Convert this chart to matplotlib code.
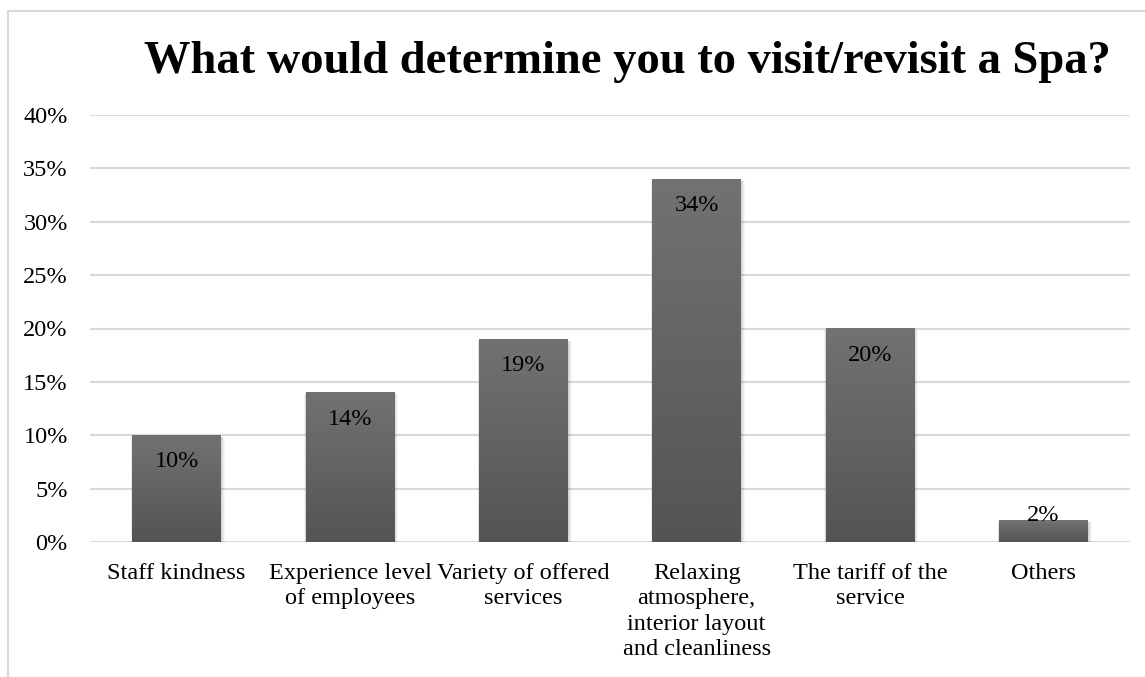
import numpy as np
import matplotlib
matplotlib.use("Agg")
import matplotlib.pyplot as plt
from matplotlib.lines import Line2D
from matplotlib.patches import Rectangle
from matplotlib.colors import LinearSegmentedColormap

categories = ["Staff kindness", "Experience level\nof employees", "Variety of offered\nservices",
              "Relaxing\natmosphere,\ninterior layout\nand cleanliness", "The tariff of the\nservice", "Others"]
values = [10, 14, 19, 34, 20, 2]
labels = ["10%", "14%", "19%", "34%", "20%", "2%"]
yticks = [0, 5, 10, 15, 20, 25, 30, 35, 40]
title = "What would determine you to visit/revisit a Spa?"

plt.rcParams['font.family'] = ['Liberation Serif', 'DejaVu Serif']
FS = 17.5

W, H = 1145, 677
fig = plt.figure(figsize=(W / 100, H / 100), dpi=100)
ax = fig.add_axes([90 / W, 1 - 542 / H, (1130 - 90) / W, (542 - 115) / H])

x = np.arange(len(categories))
bw = 0.51
bars = ax.bar(x, values, width=bw, color='none', edgecolor='none', zorder=3)

grad = np.linspace(0, 1, 256).reshape(-1, 1)
cmap = LinearSegmentedColormap.from_list('g', ['#545454', '#727272'])
for b in bars:
    x0, w, h = b.get_x(), b.get_width(), b.get_height()
    for k, a in enumerate([0.06, 0.05, 0.04, 0.03]):
        d = 0.004 * (k + 1)
        ax.add_patch(Rectangle((x0 - d * 0.5, -0.15 - d * 10), w + d * 2, h + d * 10,
                               facecolor='black', alpha=a, edgecolor='none', zorder=2.5))
    ax.imshow(grad, extent=[x0, x0 + w, 0, h], origin='lower', cmap=cmap,
              aspect='auto', zorder=3)

for xi, v, lab in zip(x, values, labels):
    yl = v - 2.5 if v > 5 else v + 0.45
    ax.text(xi, yl, lab, ha='center', va='center', fontsize=FS, color='black', zorder=5)

ax.set_xlim(-0.5, len(categories) - 0.5)
ax.set_ylim(0, 40)
ax.set_yticks(yticks)
ax.set_yticklabels([f"{t}%" for t in yticks], fontsize=FS)
ax.set_xticks(x)
ax.set_xticklabels(categories, fontsize=FS, linespacing=1.28)
ax.tick_params(axis='both', length=0)
ax.tick_params(axis='y', pad=16)
ax.tick_params(axis='x', pad=15)
for s in ax.spines.values():
    s.set_visible(False)
ax.grid(axis='y', color='#d9d9d9', linewidth=1.5, zorder=0)
ax.set_axisbelow(True)
ax.axhline(0, color='#d9d9d9', linewidth=2, zorder=1)

fig.text(627 / W, 1 - 73 / H, title, ha='center', va='baseline', fontsize=33.5, fontweight='bold')

fig.add_artist(Line2D([8 / W, 1.0], [1 - 11 / H, 1 - 11 / H], transform=fig.transFigure,
                      color='#d9d9d9', linewidth=1.5))
fig.add_artist(Line2D([8 / W, 8 / W], [1 - 11 / H, 0], transform=fig.transFigure,
                      color='#d9d9d9', linewidth=1.5))

fig.savefig('out.png', dpi=100)
